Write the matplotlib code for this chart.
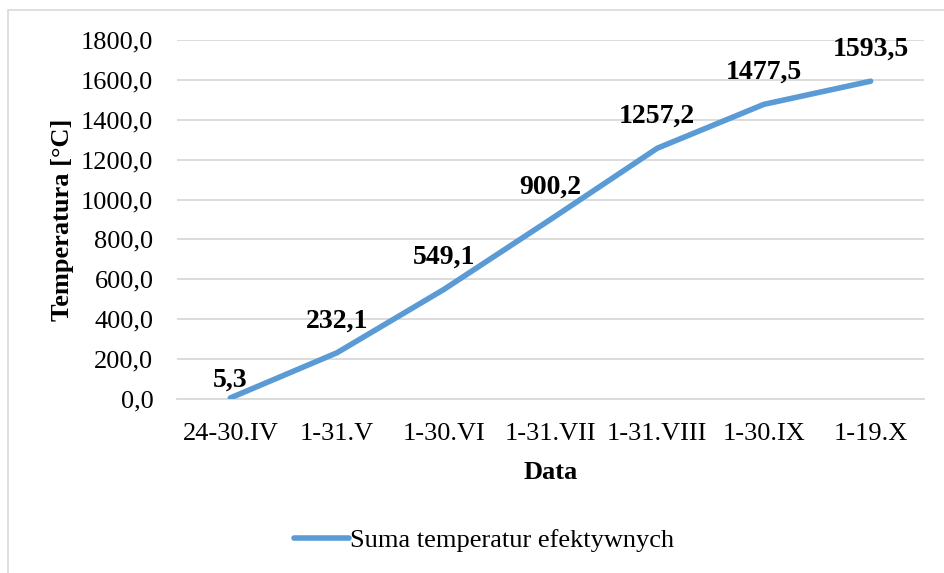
import matplotlib
matplotlib.use("Agg")
import matplotlib.pyplot as plt
from matplotlib.patches import Rectangle

categories = ["24-30.IV", "1-31.V", "1-30.VI", "1-31.VII", "1-31.VIII", "1-30.IX", "1-19.X"]
values = [5.3, 232.1, 549.1, 900.2, 1257.2, 1477.5, 1593.5]
yticks = [0, 200, 400, 600, 800, 1000, 1200, 1400, 1600, 1800]

plt.rcParams['font.family'] = ['Liberation Serif', 'DejaVu Serif']

W, H = 945, 573
fig = plt.figure(figsize=(W/100, H/100), dpi=100)
# outer chart border
fig.patches.append(Rectangle((8/W, 1 - 600/H), (945-8)/W + 0.01, (600-10)/H,
                             transform=fig.transFigure, fill=False,
                             edgecolor='#D9D9D9', linewidth=1.2))

left, right, top, bottom = 177, 924, 40, 399
ax = fig.add_axes([left/W, 1 - bottom/H, (right-left)/W, (bottom-top)/H])

x = list(range(len(categories)))
line, = ax.plot(x, values, color='#5B9BD5', linewidth=4, solid_capstyle='round',
                label='Suma temperatur efektywnych', zorder=3)

ax.set_xlim(-0.5, len(categories) - 0.5)
ax.set_ylim(0, 1800)
ax.set_yticks(yticks)
ax.set_yticklabels([f"{v:.1f}".replace('.', ',') for v in yticks], fontsize=19)
ax.set_xticks(x)
ax.set_xticklabels(categories, fontsize=19)
ax.tick_params(axis='y', length=0, pad=17)
ax.tick_params(axis='x', length=0, pad=17)
ax.grid(axis='y', color='#D9D9D9', linewidth=1.3)
ax.set_axisbelow(True)
for s in ['top', 'right', 'left']:
    ax.spines[s].set_visible(False)
ax.spines['bottom'].set_color('#D9D9D9')
ax.spines['bottom'].set_linewidth(1.3)

for i, (xi, v) in enumerate(zip(x, values)):
    off = 4 if i == 0 else 14
    ax.annotate(f"{v:.1f}".replace('.', ','), (xi, v), xytext=(0, off),
                textcoords='offset points', ha='center', va='bottom',
                fontsize=20, fontweight='bold')

ax.set_xlabel('Data', fontsize=19, fontweight='bold', labelpad=12)
ax.set_ylabel('Temperatura [°C]', fontsize=19, fontweight='bold', labelpad=5)

fig.legend(handles=[line], loc='center', bbox_to_anchor=(484/W, 1 - 540/H),
           frameon=False, fontsize=19, handlelength=2.1, handletextpad=0.05)

fig.savefig('out.png', dpi=100)
